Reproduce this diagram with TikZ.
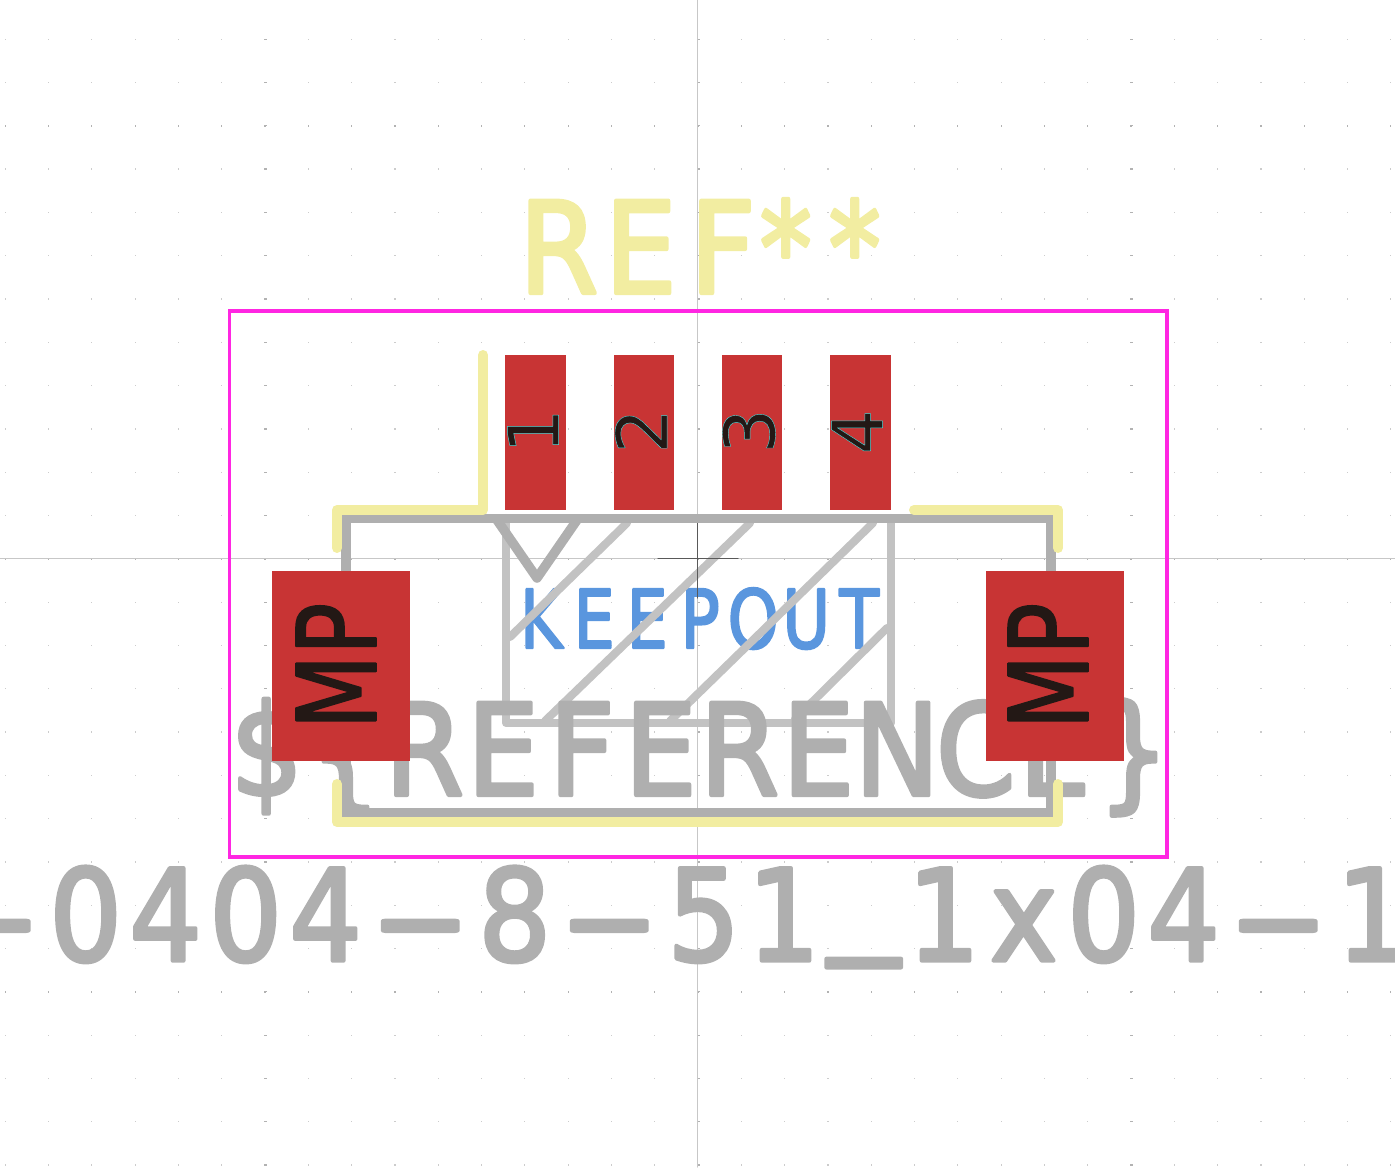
\documentclass[tikz,border=0pt]{standalone}
\usepackage{fontspec}
\usepackage{graphicx}
\newfontfamily\strokefont{DejaVu Sans}
\definecolor{padred}{HTML}{C83434}
\definecolor{silkyellow}{HTML}{F2EDA1}
\definecolor{fabgray}{HTML}{AFAFAF}
\definecolor{zonegray}{HTML}{C2C2C2}
\definecolor{zoneblue}{HTML}{5A96DE}
\definecolor{courtmag}{HTML}{FF26E2}
\definecolor{padtext}{HTML}{231815}
\newlength\pxlen
\setlength\pxlen{0.01cm}
\def\dashtok{-}
\def\lowtok{\_}
\newcommand{\strokew}[1]{\special{pdf:code 2 Tr #1 w 1 j 1 J}}
\newcommand{\padw}{\special{pdf:code 2 Tr 0.12 w 0.3 0.85 0.85 RG}}
\makeatletter
\newcommand{\pitchlabel}[3]{\@tfor\pitchchar:=#3\do{\ifx\pitchchar\dashtok\makebox[109\pxlen][c]{\scalebox{2.1}[1]{-}}\else\makebox[#1\pxlen][c]{\scalebox{#2}[1]{\ifx\pitchchar\lowtok\scalebox{1.25}[1]{\raisebox{6.5pt}{\pitchchar}}\else\pitchchar\fi}}\fi}}
\makeatother
\tikzset{
  strokelabel/.style={inner sep=0pt,anchor=base west},
  padlabel/.style={inner sep=0pt,rotate=90,text=padtext},
  silk/.style={draw=silkyellow,line width=2.85pt},
  fab/.style={draw=fabgray,line width=2.7pt},
  zone/.style={draw=zonegray,line width=2.3pt}
}
\begin{document}
\begin{tikzpicture}[line cap=round,line join=round,x=0.01cm,y=-0.01cm]
\useasboundingbox (0,0) rectangle (1395,1167);
\clip (0,0) rectangle (1395,1167);
\foreach \i in {-16,...,16}{
  \foreach \j in {-13,...,14}{
    \pgfmathsetmacro{\dotx}{697.4+43.3*\i}
    \pgfmathsetmacro{\doty}{558.2+43.3*\j}
    \fill[black!20] (\dotx,\doty) rectangle +(1.2,1.2);
  }
}
\foreach \i in {-1,0,1}{
  \foreach \j in {-16,...,16}{
    \pgfmathsetmacro{\dotx}{697.4+43.3*\j}
    \pgfmathsetmacro{\doty}{558.2+433*\i}
    \fill[black!30] (\dotx,\doty) rectangle +(1.2,2.2);
    \pgfmathsetmacro{\dotx}{697.4+433*\i}
    \pgfmathsetmacro{\doty}{558.2+43.3*\j}
    \fill[black!30] (\dotx,\doty) rectangle +(2.2,1.2);
  }
}
\draw [line width=0.3pt,black!22] (0,558.5)-- (1395,558.5);
\draw [line width=0.3pt,black!22] (697.5,0)-- (697.5,1167);
\node (keepouttext) [strokelabel,text=zoneblue,font=\strokefont\fontsize{23pt}{24pt}\selectfont] at (514,648) {\strokew{0.7}\pitchlabel{53}{.8}{KEEPOUT}};
\draw [zone] (506,518)-- (506,723)-- (891,723)-- (891,518);
\draw [zone] (510,637)-- (627,523);
\draw [zone] (545,721)-- (750,523);
\draw [zone] (670,721)-- (873,523);
\draw [zone] (795,719)-- (887,628);
\draw [line width=0.3pt,black!65] (658,558.5)-- (738,558.5);
\draw [line width=0.3pt,black!65] (697.5,518)-- (697.5,598);
\draw [fab] (497,520)-- (537,578)-- (577,520);
\node (reftext) [strokelabel,text=fabgray,font=\strokefont\fontsize{36pt}{38pt}\selectfont] at (226.6,795) {\strokew{1.2}\pitchlabel{78.8}{.9}{\$\{REFERENCE\}}};
\draw [fab,line join=miter] (346,518.3) rectangle (1051,812.5);
\fill [padred] (505,355) rectangle (566,510);
\fill [padred] (614,355) rectangle (674,510);
\fill [padred] (722,355) rectangle (782,510);
\fill [padred] (830,355) rectangle (891,510);
\fill [padred] (272,571) rectangle (410,761);
\fill [padred] (986,571) rectangle (1124,761);
\node (padone) [padlabel,font=\strokefont\fontsize{20pt}{20pt}\selectfont] at (533,431) {\padw 1};
\node (padtwo) [padlabel,font=\strokefont\fontsize{20pt}{20pt}\selectfont] at (641,431) {\padw 2};
\node (padthree) [padlabel,font=\strokefont\fontsize{20pt}{20pt}\selectfont] at (749,431) {\padw 3};
\node (padfour) [padlabel,font=\strokefont\fontsize{20pt}{20pt}\selectfont] at (857,432) {\padw 4};
\node (mpleft) [padlabel,font=\strokefont\fontsize{31pt}{32pt}\selectfont] at (336,666) {\strokew{0.6}\scalebox{.79}[1]{MP}};
\node (mpright) [padlabel,font=\strokefont\fontsize{31pt}{32pt}\selectfont] at (1048,666) {\strokew{0.6}\scalebox{.79}[1]{MP}};
\draw [silk] (483,355)-- (483,510)-- (337,510)-- (337,548);
\draw [silk] (914,510)-- (1058,510)-- (1058,548);
\draw [silk] (337,784)-- (337,822)-- (1058,822)-- (1058,784);
\draw [draw=courtmag,line width=1.1pt,line cap=butt,line join=miter] (229.5,311) rectangle (1167,857);
\node (refstar) [strokelabel,text=silkyellow,font=\strokefont\fontsize{36pt}{38pt}\selectfont] at (517,293) {\strokew{1.2}\pitchlabel{82}{.9}{REF}\kern-12.5\pxlen\pitchlabel{69}{.82}{**}};
\node (valuetext) [strokelabel,text=fabgray,font=\strokefont\fontsize{36pt}{38pt}\selectfont] at (-64,960.5) {\strokew{1.2}\pitchlabel{80}{.9}{-0404-8-51\_1x04-1}};
\end{tikzpicture}
\end{document}
